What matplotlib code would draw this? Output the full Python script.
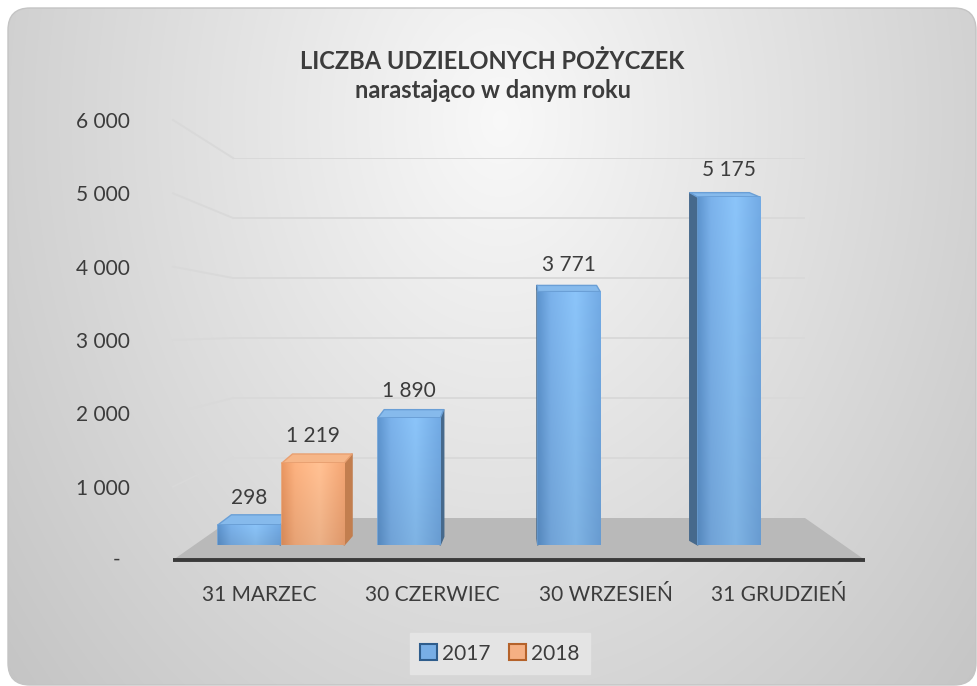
import numpy as np
import matplotlib
matplotlib.use("Agg")
import matplotlib.pyplot as plt
from matplotlib.patches import FancyBboxPatch, Polygon, Patch
from matplotlib.lines import Line2D
from matplotlib.colors import to_rgb

plt.rcParams["font.family"] = ["Lato", "DejaVu Sans"]

# --- data -------------------------------------------------------------
categories = ["31 MARZEC", "30 CZERWIEC", "30 WRZESIEŃ", "31 GRUDZIEŃ"]
series_names = ["2017", "2018"]
loans_2017 = [298, 1890, 3771, 5175]
loans_2018 = [1219, np.nan, np.nan, np.nan]
y_ticks = [1000, 2000, 3000, 4000, 5000, 6000]

TXT = "#3c3c3c"
GRID = "#d9d9d9"
BLUE = dict(face="#78aee5", edge="#6a9fd6", top="#86baec", side="#46698c",
            stops=["#5b90c8", "#76abe2", "#86bdf0", "#6ea4dc"])
ORANGE = dict(face="#f5b083", edge="#e9a071", top="#f6b688", side="#c27e4f",
              stops=["#e2925f", "#f3ab7b", "#f8ba8e", "#eba070"])

W, H = 978, 686
VX = 519  # horizontal vanishing point (pixels)


def frac(x0, y_top, x1, y_bot):
    return [x0 / W, 1 - y_bot / H, (x1 - x0) / W, (y_bot - y_top) / H]


fig = plt.figure(figsize=(W / 100, H / 100), dpi=100)

# background with rounded frame and radial shading
bg = fig.add_axes([0, 0, 1, 1], zorder=0)
bg.set_xlim(0, W)
bg.set_ylim(H, 0)
bg.axis("off")
yy, xx = np.mgrid[0:H, 0:W]
r = np.hypot((xx - 500) / 600, (yy - 120) / 800)
shade = np.clip(0.975 - 0.19 * r, 0, 1)
frame = FancyBboxPatch((8, 8), 968, 677, boxstyle="round,pad=0,rounding_size=22",
                       fc="none", ec="#c4c4c4", lw=1)
im = bg.imshow(np.dstack([shade] * 3), extent=(0, W, H, 0), zorder=0)
bg.add_patch(frame)
im.set_clip_path(frame)

# three planes of the fake 3D box: back wall, front edge, bar plane
ax_back = fig.add_axes(frac(233, 158, 805, 518), zorder=1)
ax_front = fig.add_axes(frac(173, 120, 865, 560), zorder=2)
ax_bar = fig.add_axes(frac(201, 545 - 403.2, 841, 545), zorder=3)
for a in (ax_back, ax_front, ax_bar):
    a.set_xlim(-0.5, len(categories) - 0.5)
    a.set_ylim(0, 6000)
    a.patch.set_alpha(0)
    for s in a.spines.values():
        s.set_visible(False)
ax_back.axis("off")
ax_bar.axis("off")

inv = fig.transFigure.inverted()


def to_fig(ax, x, y):
    return inv.transform(ax.transData.transform((x, y)))


# gridlines: back wall + left side wall
x_left, x_right = -0.5, len(categories) - 0.5
for v in y_ticks:
    ax_back.axhline(v, color=GRID, lw=1.4, zorder=1)
    p0, p1 = to_fig(ax_front, x_left, v), to_fig(ax_back, x_left, v)
    ax_back.add_line(Line2D([p0[0], p1[0]], [p0[1], p1[1]], color=GRID, lw=1.4,
                            transform=fig.transFigure, clip_on=False, zorder=1))

# floor
floor = [to_fig(ax_front, x_left, 0), to_fig(ax_front, x_right, 0),
         to_fig(ax_back, x_right, 0), to_fig(ax_back, x_left, 0)]
ax_back.add_patch(Polygon(floor, closed=True, fc="#b9b9b9", ec="none",
                          transform=fig.transFigure, clip_on=False, zorder=3))
ax_front.plot([x_left, x_right], [0, 0], color="#3a3a3a", lw=2.8,
              solid_capstyle="butt", clip_on=False)

# axis labels
ax_front.set_xticks(range(len(categories)), categories, fontsize=15, color=TXT)
ax_front.set_yticks(y_ticks, [f"{v:,}".replace(",", " ") for v in y_ticks],
                    fontsize=15, color=TXT)
ax_front.tick_params(axis="x", length=0, pad=18)
ax_front.tick_params(axis="y", length=0, pad=31)
ax_front.annotate("-", (x_left, 0), xytext=(-40.5, 0), textcoords="offset points",
                  ha="center", va="center", fontsize=15, color=TXT)

# bars
idx = np.arange(len(categories))
bars17 = ax_bar.bar(idx - 0.2, loans_2017, width=0.39, color=BLUE["face"],
                    ec=BLUE["edge"], lw=1.2)
bars18 = ax_bar.bar(idx + 0.2, loans_2018, width=0.39, color=ORANGE["face"],
                    ec=ORANGE["edge"], lw=1.2)

items = [(b, BLUE) for b in bars17] + [(b, ORANGE) for b in bars18]
items = [it for it in items if np.isfinite(it[0].get_height())]
items.sort(key=lambda it: it[0].get_x())

for k, (bar, pal) in enumerate(items):
    z = 3 + 0.1 * k
    x0, w, h = bar.get_x(), bar.get_width(), bar.get_height()
    (px0, pb), (px1, pt) = ax_bar.transData.transform([(x0, 0), (x0 + w, h)])
    dy = max(4.0, 10.5 - 0.017 * (pt - pb))
    dx0, dx1 = (VX - px0) * 0.045, (VX - px1) * 0.045
    top = [(px0, pt), (px1, pt), (px1 + dx1, pt + dy), (px0 + dx0, pt + dy)]
    if dx1 > 0:
        side = [(px1, pb), (px1, pt), (px1 + dx1, pt + dy), (px1 + dx1, pb + dy)]
    else:
        side = [(px0, pb), (px0, pt), (px0 + dx0, pt + dy), (px0 + dx0, pb + dy)]
    for pts, col, ec in ((side, pal["side"], pal["side"]), (top, pal["top"], pal["edge"])):
        ax_bar.add_patch(Polygon(inv.transform(pts), closed=True, fc=col, ec=ec,
                                 lw=1.0, joinstyle="round", transform=fig.transFigure,
                                 clip_on=False, zorder=z))
    bar.set_zorder(z + 0.01)
    bar.set_joinstyle("round")
    # bevel-like shading on the front face
    stops = np.array([to_rgb(c) for c in pal["stops"]])
    t = np.linspace(0, 1, 64)
    pos = np.array([0, 0.2, 0.6, 1.0])
    hor = np.stack([np.interp(t, pos, stops[:, i]) for i in range(3)], axis=-1)
    vert = np.linspace(1.04, 0.95, 32)[:, None, None]
    grad = np.clip(hor[None, :, :] * vert, 0, 1)
    gim = ax_bar.imshow(grad, extent=(x0, x0 + w, 0, h), aspect="auto",
                        interpolation="bicubic", zorder=z + 0.02)
    gim.set_clip_path(bar)
    ax_bar.annotate(f"{int(h):,}".replace(",", " "), (x0 + w / 2, h),
                    xytext=(0, 19.5), textcoords="offset points", ha="center",
                    va="center", fontsize=15, color=TXT, zorder=10)

ax_bar.set_xlim(-0.5, len(categories) - 0.5)
ax_bar.set_ylim(0, 6000)

# titles
fig.text(492 / W, 1 - 69 / H, "LICZBA UDZIELONYCH POŻYCZEK", ha="center",
         va="baseline", fontsize=17, fontweight="bold", color=TXT)
fig.text(493 / W, 1 - 98 / H, "narastająco w danym roku", ha="center",
         va="baseline", fontsize=17, fontweight="bold", color=TXT)

# legend
handles = [Patch(fc=BLUE["face"], ec="#2f5d8c", lw=1.5),
           Patch(fc=ORANGE["face"], ec="#b5622a", lw=1.5)]
fig.legend(handles, series_names, loc="center", bbox_to_anchor=(500 / W, 1 - 653.5 / H),
           ncol=2, fontsize=15, labelcolor=TXT, frameon=True, fancybox=False,
           facecolor="#e4e4e4", edgecolor="#e4e4e4", framealpha=1,
           handlelength=0.8, handleheight=0.8, handletextpad=0.25,
           columnspacing=0.9, borderpad=0.5)

fig.savefig("out.png", dpi=100)
